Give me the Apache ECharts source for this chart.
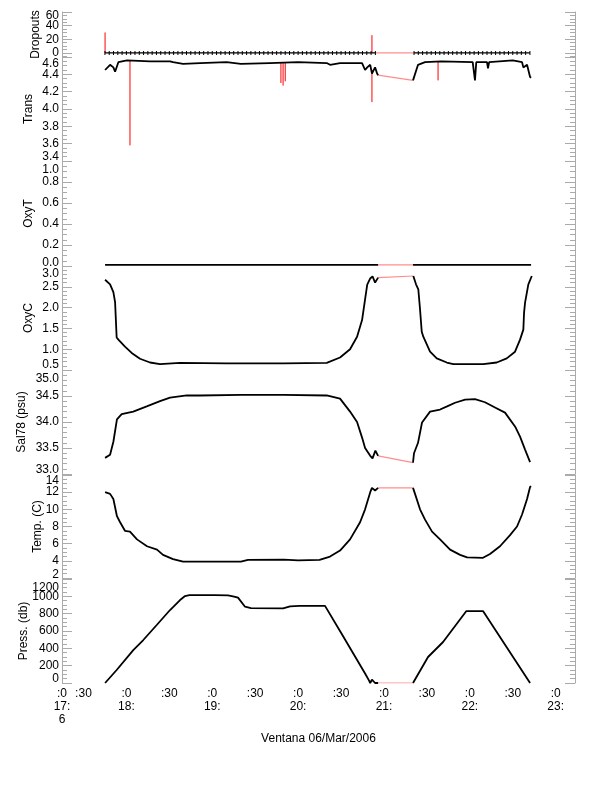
<!DOCTYPE html>
<html>
<head>
<meta charset="utf-8">
<script src="https://cdn.jsdelivr.net/npm/echarts@6/dist/echarts.min.js"></script>
<style>
html, body { margin: 0; padding: 0; background: #fff; }
#chart { width: 612px; height: 785px; }
</style>
</head>
<body>
<div id="chart"></div>
<script>
// time = minutes after 17:00, value pairs; null marks the data gap
const xMin = 15, xMax = 373.5
const xTickVals = [15, 30, 60, 90, 120, 150, 180, 210, 240, 270, 300, 330, 360]
const xTickText = [':0\n17:\n6', ':30', ':0\n18:', ':30', ':0\n19:', ':30', ':0\n20:', ':30', ':0\n21:', ':30', ':0\n22:', ':30', ':0\n23:']

const dropT = [45, 48, 51, 54, 57, 60, 63, 66, 69, 72, 75, 78, 81, 84, 87, 90, 93, 96, 99, 102, 105, 108, 111, 114, 117, 120,
  123, 126, 129, 132, 135, 138, 141, 144, 147, 150, 153, 156, 159, 162, 165, 168, 171, 174, 177, 180, 183, 186, 189, 192,
  195, 198, 201, 204, 207, 210, 213, 216, 219, 222, 225, 228, 231, 234, 248,
  261, 264, 267, 270, 273, 276, 279, 282, 285, 288, 291, 294, 297, 300, 303, 306, 309, 312, 315, 318, 321, 324, 327, 330,
  333, 336, 339, 342]
const dropV = [0, 0, 0, 0, 0, 0, 0, 0, 0, 0, 0, 0, 0, 0, 0, 0, 0, 0, 0, 0, 0, 0, 0, 0, 0, 0,
  0, 0, 0, 0, 0, 0, 0, 0, 0, 0, 0, 0, 0, 0, 0, 0, 0, 0, 0, 0, 0, 0, 0, 0,
  0, 0, 0, 0, 0, 0, 0, 0, 0, 0, 0, 0, 0, 0, null,
  0, 0, 0, 0, 0, 0, 0, 0, 0, 0, 0, 0, 0, 0, 0, 0, 0, 0, 0, 0, 0, 0, 0, 0,
  0, 0, 0, 0]
const dropSpikes = [[45.1, 0, 30], [231.6, 0, 26]] // [time, base, tip]

const trans = [[45.1, 4.45], [48.6, 4.51], [50.9, 4.48], [52.1, 4.43], [54.4, 4.54], [60.4, 4.56], [76.5, 4.55], [90.5, 4.55],
  [92.6, 4.54], [99.6, 4.52], [111.5, 4.53], [130, 4.54], [140, 4.52], [160, 4.53], [180, 4.54], [200, 4.53], [202.3, 4.51],
  [209.3, 4.53], [224.7, 4.53], [226.8, 4.45], [228.3, 4.48], [230.4, 4.51], [231.6, 4.41], [233.8, 4.48], [235.2, 4.41],
  [235.9, 4.39], [248, null], [260.3, 4.33], [263.8, 4.51], [268.7, 4.54], [280, 4.55], [302, 4.54], [303.6, 4.33],
  [304.5, 4.54], [312, 4.54], [312.7, 4.47], [313.5, 4.54], [330, 4.56], [336.5, 4.54], [337.4, 4.48], [340, 4.51],
  [342.1, 4.37], [342.8, 4.36]]
const transSpikes = [[62.5, 4.56, 3.58], [168, 4.53, 4.30], [169.5, 4.53, 4.27], [171, 4.53, 4.32], [231.6, 4.45, 4.08], [277.8, 4.55, 4.33]]

const oxyT = [[45.1, 0.01], [235.9, 0.01], [248, null], [260.3, 0.01], [342.8, 0.01]]

const oxyC = [[45.1, 2.67], [48.6, 2.56], [50.9, 2.37], [52.1, 2.13], [53.2, 1.28], [54.4, 1.23], [59.0, 1.06], [63.7, 0.91],
  [69.5, 0.77], [76.5, 0.68], [83.5, 0.64], [97.5, 0.67], [130, 0.66], [170, 0.66], [200, 0.67], [209.3, 0.8], [216.3, 1.0],
  [221.2, 1.3], [224.7, 1.7], [226.8, 2.2], [228.3, 2.55], [230.4, 2.7], [232, 2.75], [233.8, 2.6], [235.9, 2.72], [248, null],
  [260.5, 2.76], [262.4, 2.56], [264.0, 2.44], [265.2, 1.96], [266.4, 1.42], [267.5, 1.30], [272.2, 0.94], [276.9, 0.78],
  [283.9, 0.68], [288.5, 0.64], [297.8, 0.64], [309.4, 0.64], [318.8, 0.68], [325.8, 0.78], [331.6, 0.94], [335.1, 1.23],
  [337.4, 1.47], [337.9, 1.88], [338.6, 2.12], [340.9, 2.56], [343.3, 2.76]]

const sal = [[45.1, 33.31], [48.6, 33.37], [50.9, 33.62], [53.4, 34.05], [56.7, 34.15], [64.8, 34.2], [74.2, 34.3], [83.5, 34.4],
  [90.5, 34.47], [102.2, 34.51], [111.5, 34.51], [140, 34.52], [170, 34.52], [200, 34.51], [209.3, 34.45], [216.3, 34.2],
  [221.2, 34.0], [224.7, 33.7], [226.8, 33.5], [230.4, 33.35], [232, 33.3], [234, 33.45], [235.9, 33.35], [248, null],
  [260.3, 33.22], [261, 33.4], [263.8, 33.6], [266.6, 33.99], [272.2, 34.2], [279.2, 34.24], [284.1, 34.3], [289.7, 34.37],
  [296.7, 34.43], [303.6, 34.44], [310.6, 34.38], [317.6, 34.28], [324.6, 34.18], [331.7, 33.91], [335.1, 33.72],
  [338.6, 33.47], [342.1, 33.23]]

const temp = [[45.1, 12.0], [48.6, 11.8], [50.9, 11.2], [53.4, 9.2], [55.6, 8.5], [59.0, 7.5], [62.5, 7.4], [67.4, 6.5],
  [74.4, 5.7], [81.4, 5.3], [85.6, 4.7], [92.6, 4.2], [99.6, 3.9], [111.5, 3.9], [140, 3.9], [145, 4.1], [170, 4.15],
  [180, 4.05], [195, 4.1], [202.3, 4.5], [209.3, 5.2], [216.3, 6.5], [223.3, 8.5], [226.8, 10], [230.4, 12], [231.6, 12.5],
  [233.8, 12.2], [235.9, 12.5], [248, null], [260.3, 12.5], [261.7, 11.8], [265.2, 10], [268.7, 8.8], [273.6, 7.4],
  [279.2, 6.5], [286.2, 5.3], [293.2, 4.7], [298.1, 4.4], [309.2, 4.35], [314.1, 4.8], [321.1, 5.7], [328.1, 7.0],
  [333, 8.0], [336.5, 9.4], [340, 11.2], [342.1, 12.6], [342.8, 12.7]]

const press = [[45.1, 0], [53.2, 150], [64.8, 380], [71.8, 496], [81.2, 669], [90.5, 842], [97.5, 957], [101, 1003],
  [104, 1015], [121.9, 1015], [131, 1010], [134.5, 1000], [138, 985], [142.9, 880], [147, 865], [169.5, 860], [174.4, 885],
  [181, 890], [198.8, 890], [210, 580], [220, 300], [226.8, 110], [229.5, 30], [230.4, 0], [231.6, 40], [233.8, 0],
  [235.9, 0], [248, null], [260.3, 0], [270.8, 300], [281.3, 473], [297.6, 830], [309.2, 830], [342.1, 0]]

const panels = [
  { name: 'Dropouts', data: dropT.map((t, k) => [t, dropV[k]]), spikes: dropSpikes, marks: true,
    min: -6, max: 60, ticks: [0, 20, 40, 60], minor: 5, digits: 0, top: 12, height: 45, nameGap: 20, hiPad: 8, loPad: 9 },
  { name: 'Trans', data: trans, spikes: transSpikes,
    min: 3.4, max: 4.6, ticks: [3.4, 3.6, 3.8, 4.0, 4.2, 4.4, 4.6], minor: 0.05, digits: 1, top: 57, height: 104, nameGap: 27, hiPad: 14, loPad: 8 },
  { name: 'OxyT', data: oxyT, spikes: [],
    min: 0, max: 1, ticks: [0, 0.2, 0.4, 0.6, 0.8, 1.0], minor: 0.05, digits: 1, top: 161, height: 105, nameGap: 27, hiPad: 18, loPad: 6 },
  { name: 'OxyC', data: oxyC, spikes: [],
    min: 0.5, max: 3.0, ticks: [0.5, 1.0, 1.5, 2.0, 2.5, 3.0], minor: 0.1, digits: 1, top: 266, height: 104, nameGap: 27, hiPad: 16, loPad: 10 },
  { name: 'Sal78 (psu)', data: sal, spikes: [],
    min: 33, max: 35, ticks: [33.0, 33.5, 34.0, 34.5, 35.0], minor: 0.1, digits: 1, top: 370, height: 104, nameGap: 34, hiPad: 18, loPad: 9 },
  { name: 'Temp. (C)', data: temp, spikes: [],
    min: 2, max: 14, ticks: [2, 4, 6, 8, 10, 12, 14], minor: 0.5, digits: 0, top: 475, height: 103, nameGap: 18, hiPad: 12, loPad: 7 },
  { name: 'Press. (db)', data: press, spikes: [],
    min: 0, max: 1200, ticks: [0, 200, 400, 600, 800, 1000, 1200], minor: 50, digits: 0, top: 579, height: 104, nameGap: 32, hiPad: 18, loPad: 9 }
]

const gray = '#aaaaaa'
const font = 'Liberation Sans, Arial, sans-serif'
const grid = [], xAxis = [], yAxis = [], series = []

panels.forEach((p, i) => {
  const last = i === panels.length - 1
  grid.push({ left: 62, right: 37, top: p.top, height: p.height })
  xAxis.push({
    type: 'value', gridIndex: i, min: xMin, max: xMax, show: last,
    axisLine: { show: false }, axisTick: { show: false }, splitLine: { show: false },
    axisLabel: {
      show: last, customValues: xTickVals, showMinLabel: true, showMaxLabel: true,
      margin: 4, fontSize: 12, lineHeight: 13, fontFamily: font, color: '#000',
      formatter: v => xTickText[xTickVals.indexOf(v)] || ''
    },
    name: last ? 'Ventana 06/Mar/2006' : '', nameLocation: 'middle', nameGap: 50, nameMoveOverlap: false,
    nameTextStyle: { fontSize: 12, fontFamily: font, color: '#000' }
  })

  const minorVals = []
  for (let k = Math.ceil(p.min / p.minor - 1e-6); k * p.minor <= p.max + 1e-6; k++) {
    const v = +(k * p.minor).toFixed(4)
    if (!p.ticks.some(t => Math.abs(t - v) < 1e-6)) minorVals.push(v)
  }
  const rich = {
    hi: { padding: [p.hiPad, 0, 0, 0], fontSize: 12, lineHeight: 9, fontFamily: font, color: '#000' },
    lo: { padding: [0, 0, p.loPad, 0], fontSize: 12, lineHeight: 9, fontFamily: font, color: '#000' }
  }
  const fmt = v => {
    const s = v.toFixed(p.digits)
    if (Math.abs(v - p.max) < 1e-9) return '{hi|' + s + '}'
    if (Math.abs(v - p.min) < 1e-9) return '{lo|' + s + '}'
    return s
  }
  // labels are split over two stacked axes so none of them is dropped as overlapping
  const labelSets = [p.ticks.filter((t, k) => k % 2 === 0), p.ticks.filter((t, k) => k % 2 === 1)]
  const labelStyle = set => ({
    show: true, customValues: set, margin: 3, showMinLabel: true, showMaxLabel: true,
    fontSize: 12, lineHeight: 9, fontFamily: font, color: '#000', rich: rich, formatter: fmt
  })
  const axisBase = {
    type: 'value', gridIndex: i, min: p.min, max: p.max,
    splitLine: { show: false }, axisLine: { show: false }, axisLabel: { show: false }
  }
  ;['left', 'right'].forEach(side => {
    yAxis.push(Object.assign({}, axisBase, {
      position: side,
      axisLine: { show: true, lineStyle: { color: gray, width: 1 } },
      axisTick: { show: true, inside: true, length: 10, customValues: p.ticks, lineStyle: { color: gray } },
      axisLabel: side === 'right' ? { show: false } : labelStyle(labelSets[0]),
      name: side === 'left' ? p.name : '', nameLocation: 'middle', nameGap: p.nameGap, nameMoveOverlap: false,
      nameTextStyle: { fontSize: 12, fontFamily: font, color: '#000' }
    }))
    yAxis.push(Object.assign({}, axisBase, {
      position: side,
      axisTick: { show: true, inside: true, length: 5, customValues: minorVals, lineStyle: { color: gray } },
      axisLabel: side === 'right' ? { show: false } : labelStyle(labelSets[1])
    }))
  })

  const yi = i * 4
  // red raw spikes
  p.spikes.forEach(s => {
    series.push({
      type: 'line', xAxisIndex: i, yAxisIndex: yi, data: [[s[0], s[1]], [s[0], s[2]]],
      symbol: 'none', lineStyle: { color: '#ff0000', width: 1 }, silent: true
    })
  })
  // red line across the gap
  const gi = p.data.findIndex(d => d[1] === null)
  if (gi > 0) {
    series.push({
      type: 'line', xAxisIndex: i, yAxisIndex: yi, data: [p.data[gi - 1], p.data[gi + 1]],
      symbol: 'none', lineStyle: { color: 'rgba(255,0,0,0.45)', width: 1.2 }, silent: true
    })
  }
  // black line
  series.push({
    type: 'line', xAxisIndex: i, yAxisIndex: yi, data: p.data, connectNulls: false,
    symbol: p.marks ? 'rect' : 'none', symbolSize: [1, 4], showSymbol: !!p.marks,
    itemStyle: { color: '#000' },
    lineStyle: { color: '#000', width: p.marks ? 1.3 : 1.8 }, silent: true
  })
})

const chart = echarts.init(document.getElementById('chart'))
chart.setOption({
  animation: false,
  backgroundColor: '#fff',
  grid: grid,
  xAxis: xAxis,
  yAxis: yAxis,
  series: series
})
</script>
</body>
</html>
